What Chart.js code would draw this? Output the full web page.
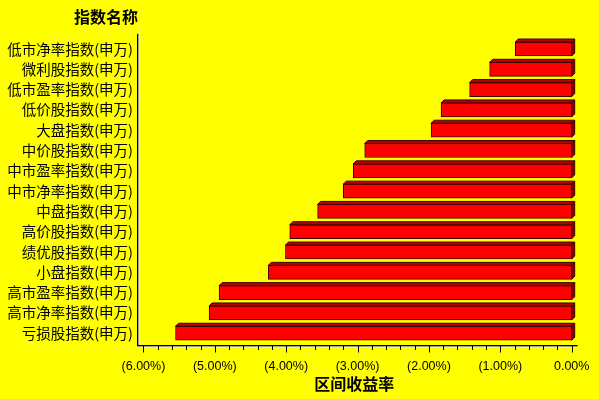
<!DOCTYPE html>
<html><head><meta charset="utf-8">
<script src="https://cdn.jsdelivr.net/npm/chart.js@4/dist/chart.umd.min.js"></script>
<style>html,body{margin:0;padding:0;background:#ffff00;overflow:hidden;}</style>
</head><body>
<canvas id="c" width="599" height="399" style="display:block;width:599px;height:399px"></canvas>
<script>
const categories = ['低市净率指数(申万)','微利股指数(申万)','低市盈率指数(申万)','低价股指数(申万)','大盘指数(申万)','中价股指数(申万)','中市盈率指数(申万)','中市净率指数(申万)','中盘指数(申万)','高价股指数(申万)','绩优股指数(申万)','小盘指数(申万)','高市盈率指数(申万)','高市净率指数(申万)','亏损股指数(申万)'];
const returns = [-0.79,-1.15,-1.43,-1.83,-1.97,-2.90,-3.06,-3.20,-3.56,-3.95,-4.01,-4.25,-4.94,-5.08,-5.55];
const tickValues = [-6,-5,-4,-3,-2,-1,0];
const minorStep = 0.2;
const chartTitle = '指数名称';
const axisTitle = '区间收益率';

function fmt(v){ return v < 0 ? '(' + Math.abs(v).toFixed(2) + '%)' : Math.abs(v).toFixed(2) + '%'; }

const depth = 3;
const bar3d = {
  id: 'bar3d',
  afterDatasetsDraw(chart){
    const ctx = chart.ctx;
    const meta = chart.getDatasetMeta(0);
    ctx.save();
    ctx.lineWidth = 1;
    ctx.strokeStyle = '#3a0000';
    meta.data.forEach(el => {
      const p = el.getProps(['x','y','base','height'], true);
      const l = Math.min(p.x, p.base), r = Math.max(p.x, p.base);
      const t = p.y - p.height/2, b = p.y + p.height/2;
      ctx.fillStyle = '#b80000';
      ctx.beginPath();
      ctx.moveTo(l, t); ctx.lineTo(l+depth, t-depth); ctx.lineTo(r+depth, t-depth); ctx.lineTo(r, t); ctx.closePath();
      ctx.fill(); ctx.stroke();
      ctx.fillStyle = '#8c0000';
      ctx.beginPath();
      ctx.moveTo(r, t); ctx.lineTo(r+depth, t-depth); ctx.lineTo(r+depth, b-depth); ctx.lineTo(r, b); ctx.closePath();
      ctx.fill(); ctx.stroke();
    });
    ctx.restore();
  }
};

const axes = {
  id: 'axes',
  beforeDatasetsDraw(chart){
    const ctx = chart.ctx, a = chart.chartArea, xs = chart.scales.x;
    const yLine = 345.5;
    ctx.save();
    ctx.strokeStyle = '#a0a0a0';
    ctx.lineWidth = 1;
    ctx.beginPath(); ctx.moveTo(a.left+1.5, a.top-5); ctx.lineTo(a.left+1.5, yLine); ctx.stroke();
    ctx.beginPath(); ctx.moveTo(a.left, yLine+1); ctx.lineTo(a.right+depth+3, yLine+1); ctx.stroke();
    ctx.strokeStyle = '#000000';
    ctx.beginPath(); ctx.moveTo(Math.round(a.left)+0.5, a.top-5); ctx.lineTo(Math.round(a.left)+0.5, yLine); ctx.stroke();
    ctx.beginPath(); ctx.moveTo(a.left, yLine); ctx.lineTo(a.right+depth+3, yLine); ctx.stroke();
    const n = Math.round((tickValues[tickValues.length-1]-tickValues[0])/minorStep);
    for (let i=0;i<=n;i++){
      const v = tickValues[0] + i*minorStep;
      const major = tickValues.some(t => Math.abs(t-v) < 1e-6);
      const x = Math.round(xs.getPixelForValue(v)) + 0.5;
      ctx.beginPath(); ctx.moveTo(x, yLine); ctx.lineTo(x, yLine + (major ? 7 : 4.5)); ctx.stroke();
    }
    ctx.restore();
  },
  afterDraw(chart){
    const ctx = chart.ctx, a = chart.chartArea;
    ctx.save();
    ctx.fillStyle = '#000';
    ctx.font = 'bold 16px "Noto Sans CJK SC"';
    ctx.textAlign = 'right';
    ctx.textBaseline = 'middle';
    ctx.fillText(chartTitle, a.left+1, 17);
    ctx.restore();
  }
};

new Chart(document.getElementById('c'), {
  type: 'bar',
  data: {
    labels: categories,
    datasets: [{
      data: returns,
      backgroundColor: '#ff0000',
      borderColor: '#3a0000',
      borderWidth: 1,
      borderSkipped: false,
      barThickness: 14
    }]
  },
  options: {
    indexAxis: 'y',
    responsive: false,
    animation: false,
    devicePixelRatio: 1,
    layout: { padding: { top: 38.85, right: 27.3, left: 0, bottom: 0 } },
    plugins: { legend: { display: false }, tooltip: { enabled: false } },
    scales: {
      x: {
        min: -6.09, max: 0,
        afterBuildTicks(s){ s.ticks = tickValues.map(v => ({value: v})); },
        afterFit(s){ s.height = 399 - 343.4; s.paddingLeft = 0; s.paddingRight = 0; },
        grid: { display: false, drawTicks: false },
        border: { display: false },
        ticks: { callback: v => fmt(v), color: '#000', padding: 16, maxRotation: 0, autoSkip: false,
                 font: { family: '"Liberation Sans"', size: 12.5 } },
        title: { display: true, text: axisTitle, color: '#000', padding: { top: 0, bottom: 5 },
                 font: { family: '"Noto Sans CJK SC"', size: 16, weight: 'bold' } }
      },
      y: {
        afterFit(s){ s.width = 137; },
        grid: { display: false, drawTicks: false },
        border: { display: false },
        ticks: { color: '#000', padding: 4, autoSkip: false,
                 font: { family: '"Noto Sans CJK SC"', size: 14.5 } }
      }
    }
  },
  plugins: [axes, bar3d]
});
</script>
</body></html>
